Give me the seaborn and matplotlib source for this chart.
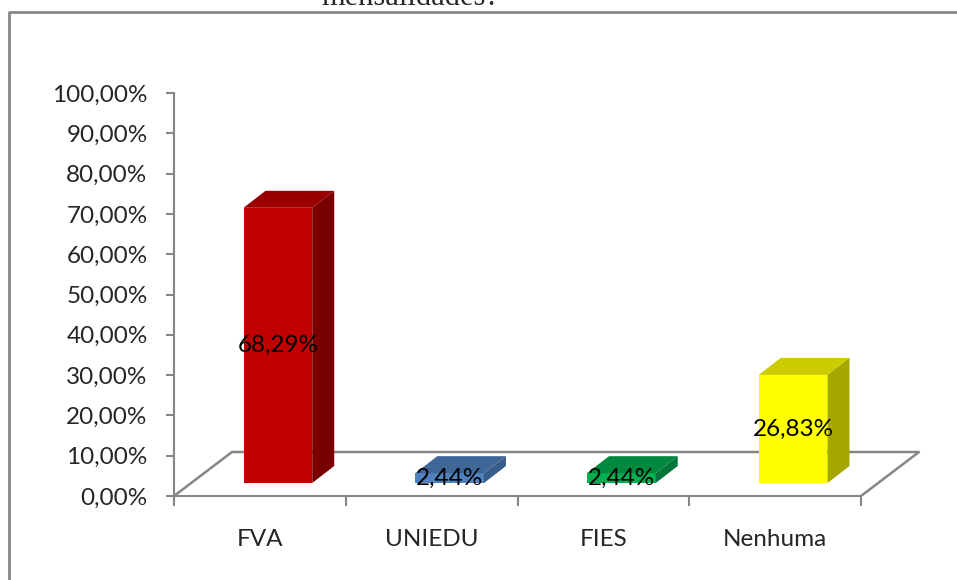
import matplotlib
matplotlib.use('Agg')
import matplotlib.pyplot as plt
import matplotlib.transforms as mtransforms
from matplotlib.patches import Polygon
from matplotlib.lines import Line2D
import seaborn as sns
import pandas as pd

categorias = ['FVA', 'UNIEDU', 'FIES', 'Nenhuma']
valores = [68.29, 2.44, 2.44, 26.83]
rotulos = ['68,29%', '2,44%', '2,44%', '26,83%']
yticks = [0, 10, 20, 30, 40, 50, 60, 70, 80, 90, 100]
ytick_labels = ['0,00%', '10,00%', '20,00%', '30,00%', '40,00%', '50,00%',
                '60,00%', '70,00%', '80,00%', '90,00%', '100,00%']

frente = ['#C00000', '#4F81BD', '#00B050', '#FFFF00']
topo = ['#9A0000', '#3F6797', '#00893E', '#CCCC00']
lado = ['#7A0000', '#385D8A', '#00763A', '#A6A600']

df = pd.DataFrame({'cat': categorias, 'val': valores})

sns.set_style('white')
plt.rcParams['font.family'] = ['Lato', 'DejaVu Sans']
cinza = '#868686'
fs = 17.5

fig = plt.figure(figsize=(9.57, 5.8), dpi=100)
W, H = 957, 580
ax = fig.add_axes([174 / W, (H - 496) / H, (861 - 174) / W, (496 - 93) / H])

sns.barplot(data=df, x='cat', y='val', hue='cat', palette=frente, width=0.4,
            legend=False, ax=ax, saturation=1, edgecolor='none')

ax.set_xlim(-0.5, 3.5)
ax.set_ylim(0, 100)
ax.set_xlabel('')
ax.set_ylabel('')
ax.set_yticks(yticks)
ax.set_yticklabels(ytick_labels)
ax.set_xticks(range(len(categorias)))
ax.set_xticklabels(categorias)
ax.set_xticks([-0.5, 0.5, 1.5, 2.5, 3.5], minor=True)
ax.tick_params(axis='y', which='major', length=6, width=1.5, color=cinza,
               direction='out', labelsize=fs, pad=13, left=True)
ax.tick_params(axis='x', which='major', length=0, labelsize=fs, pad=24)
ax.tick_params(axis='x', which='minor', length=7, width=1.5, color=cinza,
               direction='out', bottom=True)
for s in ['top', 'right']:
    ax.spines[s].set_visible(False)
for s in ['left', 'bottom']:
    ax.spines[s].set_color(cinza)
    ax.spines[s].set_linewidth(1.5)
ax.patch.set_alpha(0)

# piso em perspectiva
px_x = 171.75  # px por categoria
px_y = 4.03    # px por ponto percentual
fdx, fdy = 58 / px_x, 44 / px_y
piso = [(-0.5, 0), (-0.5 + fdx, fdy), (3.5 + fdx, fdy), (3.5, 0)]
ax.add_line(Line2D([p[0] for p in piso], [p[1] for p in piso], color=cinza,
                   lw=1.8, clip_on=False, zorder=1))

# barras deslocadas para o meio da profundidade
desloc = mtransforms.ScaledTranslation(18 / 100, 13 / 100, fig.dpi_scale_trans)
tr = ax.transData + desloc
bdx, bdy = 22 / px_x, 17 / px_y
for i, p in enumerate(ax.patches):
    x0, w, h = p.get_x(), p.get_width(), p.get_height()
    p.set_transform(tr)
    p.set_zorder(3)
    ax.add_patch(Polygon([(x0, h), (x0 + bdx, h + bdy), (x0 + w + bdx, h + bdy), (x0 + w, h)],
                         closed=True, facecolor=topo[i], edgecolor='none',
                         transform=tr, clip_on=False, zorder=3))
    ax.add_patch(Polygon([(x0 + w, 0), (x0 + w, h), (x0 + w + bdx, h + bdy), (x0 + w + bdx, bdy)],
                         closed=True, facecolor=lado[i], edgecolor='none',
                         transform=tr, clip_on=False, zorder=3))
    ax.text(x0 + w / 2, h / 2, rotulos[i], transform=tr, ha='center', va='center',
            fontsize=fs, color='black', zorder=5)

# moldura e titulo cortado (como no original)
fig.add_artist(Line2D([9 / W, 9 / W, 1], [0, 1 - 12 / H, 1 - 12 / H],
                      transform=fig.transFigure, color='#888888', lw=2))
fig.text(410 / W, 1 - 5 / H, 'mensalidades?', ha='center', va='baseline',
         fontsize=22, family='Liberation Serif')

fig.savefig('out.png', dpi=100)
